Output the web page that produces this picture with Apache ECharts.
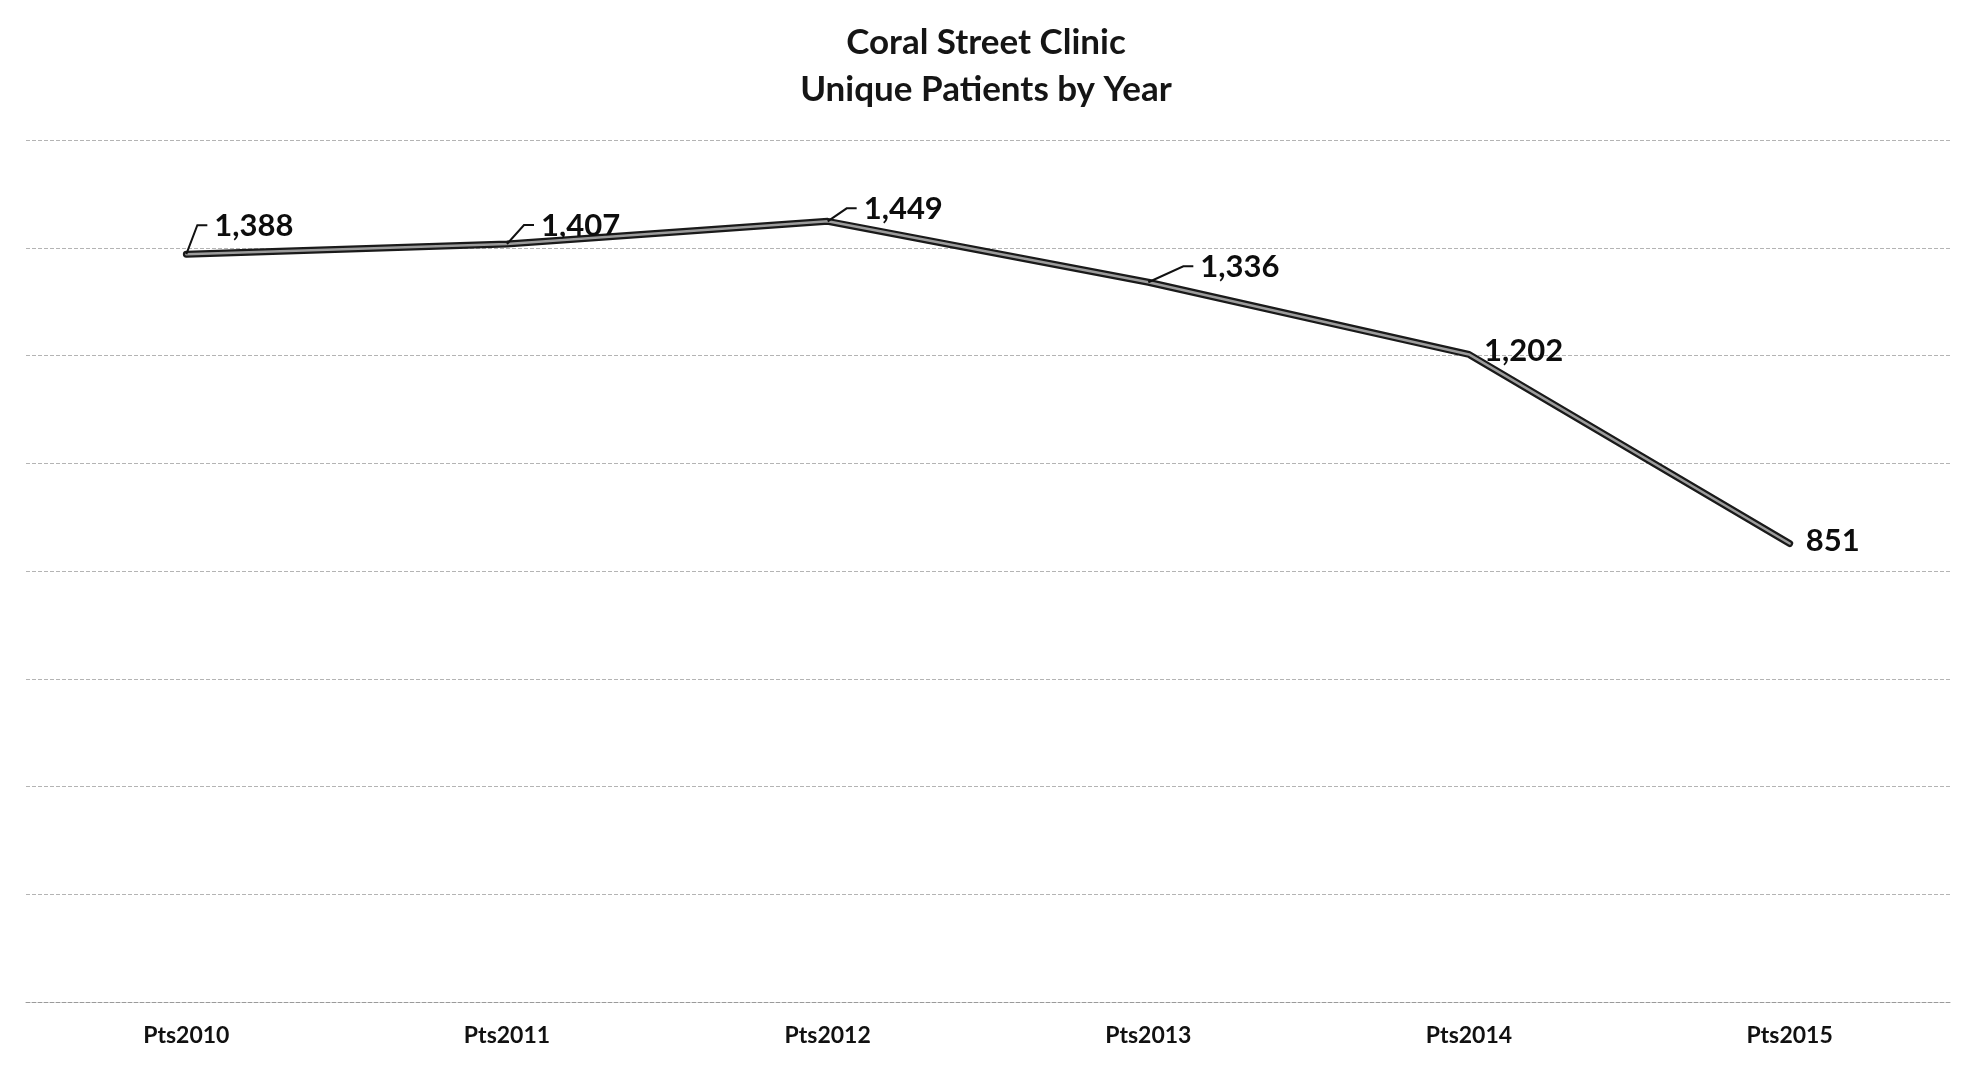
<!DOCTYPE html>
<html>
<head>
<meta charset="utf-8">
<script src="https://cdn.jsdelivr.net/npm/echarts@6/dist/echarts.min.js"></script>
<style>
html,body{margin:0;padding:0;background:#fff;}
#chart{width:1972px;height:1066px;}
</style>
</head>
<body>
<div id="chart"></div>
<script>
var categories = ['Pts2010', 'Pts2011', 'Pts2012', 'Pts2013', 'Pts2014', 'Pts2015'];
var patients = [1388, 1407, 1449, 1336, 1202, 851];
var titleLines = ['Coral Street Clinic', 'Unique Patients by Year'];

// label placement (layout, offsets in px from the point)
var labelDx = [27, 33, 35, 51, 14, 15];
var labelDy = [-28, -18, -12, -15, -3, -3];
var hasLeader = [true, true, true, true, false, false];

var FONT = 'Lato, "Open Sans", sans-serif';

var chart = echarts.init(document.getElementById('chart'), null, {renderer: 'canvas'});

var labeledData = patients.map(function (v, i) {
  return {value: v, label: {offset: [labelDx[i], labelDy[i]]}};
});

var option = {
  backgroundColor: '#ffffff',
  animation: false,
  title: {
    text: titleLines.join('\n'),
    left: 'center',
    top: 14,
    textStyle: {fontFamily: FONT, fontSize: 35, fontWeight: 'bold', color: '#151515', lineHeight: 47}
  },
  grid: {left: 26, right: 22, top: 140, bottom: 64},
  xAxis: {
    type: 'category',
    data: categories,
    boundaryGap: true,
    axisLine: {show: true, lineStyle: {color: '#9a9a9a', width: 1, type: [4, 2]}},
    axisTick: {show: false},
    axisLabel: {fontFamily: FONT, fontSize: 23, fontWeight: 'bold', color: '#111', margin: 22}
  },
  yAxis: {
    type: 'value',
    min: 0,
    max: 1600,
    interval: 200,
    axisLine: {show: false},
    axisTick: {show: false},
    axisLabel: {show: false},
    splitLine: {show: true, lineStyle: {color: '#b4b4b4', width: 1, type: [4, 2]}}
  },
  series: [
    {
      type: 'line',
      data: labeledData,
      symbol: 'circle',
      symbolSize: 2,
      showSymbol: true,
      itemStyle: {color: '#1a1a1a'},
      z: 3,
      lineStyle: {color: '#1a1a1a', width: 7, cap: 'round', join: 'round'},
      label: {
        show: true,
        position: 'right',
        distance: 0,
        fontFamily: FONT,
        fontSize: 31,
        fontWeight: 'bold',
        color: '#0d0d0d',
        formatter: function (p) { return p.value.toLocaleString('en-US'); }
      }
    },
    {
      type: 'line',
      data: patients,
      symbol: 'none',
      silent: true,
      z: 4,
      lineStyle: {color: '#9c9c9c', width: 2.5, cap: 'round', join: 'round'}
    },
    {
      type: 'custom',
      z: 5,
      silent: true,
      data: patients.map(function (v, i) { return [i, v]; }),
      renderItem: function (params, api) {
        var i = api.value(0);
        if (!hasLeader[i]) { return null; }
        var pt = api.coord([i, api.value(1)]);
        var textLeft = pt[0] + labelDx[i];
        var ty = pt[1] + labelDy[i] - 1;
        return {
          type: 'polyline',
          shape: {points: [[pt[0], pt[1]], [textLeft - 16, ty], [textLeft - 6, ty]]},
          style: {stroke: '#111', lineWidth: 2, fill: null}
        };
      }
    }
  ]
};
chart.setOption(option);
</script>
</body>
</html>
